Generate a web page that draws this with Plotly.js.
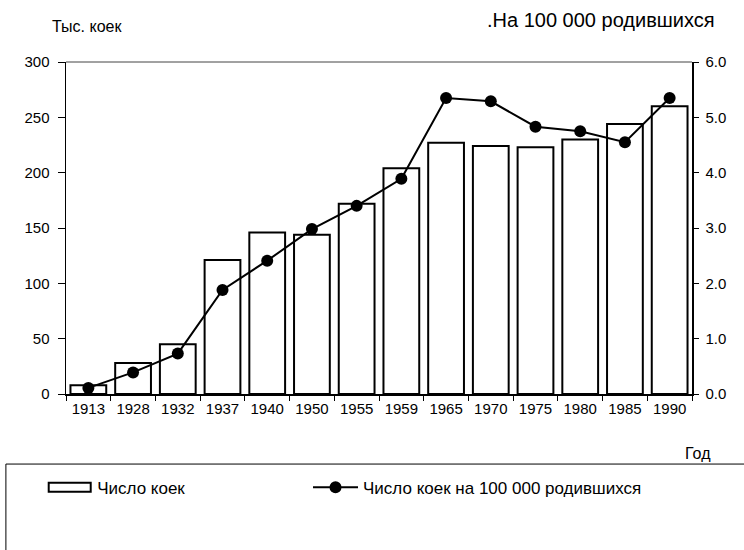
<!DOCTYPE html>
<html><head><meta charset="utf-8">
<script src="https://cdn.plot.ly/plotly-3.0.1.min.js"></script>
<style>body{margin:0;background:#fff}#chart{width:744px;height:550px}</style>
</head><body><div id="chart"></div>
<script>
const years = ["1913","1928","1932","1937","1940","1950","1955","1959","1965","1970","1975","1980","1985","1990"];
const beds = [8, 28, 45, 121, 146, 144, 172, 204, 227, 224, 223, 230, 244, 260];
const bedsPer100k = [0.11, 0.39, 0.73, 1.88, 2.41, 2.98, 3.40, 3.89, 5.35, 5.29, 4.83, 4.75, 4.55, 5.35];
const leftTicks = [0, 50, 100, 150, 200, 250, 300];
const rightTicks = [0, 1, 2, 3, 4, 5, 6];

const FAM = "Liberation Sans, Arial, sans-serif";
const tickFont = {family: FAM, size: 15, color: "#000"};
const legFont = {family: FAM, size: 17, color: "#000"};

const traces = [
  {type: "bar", x: years, y: beds, name: "Число коек", width: 0.8, legend: "legend",
   marker: {color: "#fff", line: {color: "#000", width: 2}}, yaxis: "y"},
  {type: "scatter", mode: "lines+markers", x: years, y: bedsPer100k, yaxis: "y2", legend: "legend2",
   name: "Число коек на 100 000 родившихся",
   line: {color: "#000", width: 2}, marker: {color: "#000", size: 12}}
];

const layout = {
  width: 744, height: 550,
  margin: {l: 66, r: 52, t: 62, b: 156},
  paper_bgcolor: "#fff", plot_bgcolor: "#fff",
  font: {family: FAM, size: 15, color: "#000"},
  showlegend: true,
  legend: {orientation: "h", x: -0.038, xanchor: "left", y: -0.282, yanchor: "middle",
           itemwidth: 45, bgcolor: "rgba(0,0,0,0)", font: legFont},
  legend2: {orientation: "h", x: 0.3866, xanchor: "left", y: -0.282, yanchor: "middle",
            itemwidth: 45, bgcolor: "rgba(0,0,0,0)", font: legFont},
  bargap: 0.2,
  xaxis: {type: "category", range: [-0.5, years.length - 0.5], showline: true, linecolor: "#000",
          linewidth: 2, tickangle: 0,
          ticks: "outside", tickson: "boundaries", ticklen: 5, tickcolor: "#000",
          showgrid: false, zeroline: false, tickfont: tickFont, fixedrange: true},
  yaxis: {range: [0, 300], tickvals: leftTicks, ticks: "outside", ticklen: 7, tickcolor: "#000",
          showline: true, linecolor: "#000", linewidth: 1.5, showgrid: false, zeroline: false,
          tickfont: tickFont, ticklabelstandoff: 5},
  yaxis2: {range: [0, 6], tickvals: rightTicks, tickformat: ".1f", overlaying: "y", side: "right",
           ticks: "outside", ticklen: 5, tickcolor: "#000", showline: true, linecolor: "#000",
           linewidth: 1.5, showgrid: false, zeroline: false, tickfont: tickFont, ticklabelstandoff: 4},
  shapes: [
    {type: "line", xref: "paper", yref: "paper", x0: 0, x1: 1, y0: 1, y1: 1,
     line: {color: "#444", width: 1}},
    {type: "rect", xref: "paper", yref: "paper", x0: -0.096, x1: 1.2, y0: -0.211, y1: -0.6,
     line: {color: "#000", width: 1}, fillcolor: "rgba(0,0,0,0)"}
  ],
  annotations: [
    {text: "Тыс. коек", xref: "paper", yref: "paper", x: 0.034, y: 1.108, xanchor: "center",
     yanchor: "middle", showarrow: false, font: {family: FAM, size: 16, color: "#000"}},
    {text: ".На 100 000 родившихся", xref: "paper", yref: "paper", x: 1.04, y: 1.1265,
     xanchor: "right", yanchor: "middle", showarrow: false,
     font: {family: FAM, size: 20, color: "#000"}},
    {text: "Год", xref: "paper", yref: "paper", x: 1.0335, y: -0.178, xanchor: "right",
     yanchor: "middle", showarrow: false, font: {family: FAM, size: 16, color: "#000"}}
  ]
};

const gd = document.getElementById("chart");
function widenBarLegend() {
  const p = gd.querySelector(".legend .traces .legendpoints path");
  if (p) { p.setAttribute("d", "M21,4.5H-21V-4.5H21Z"); p.style.strokeWidth = "2px"; }
}
Plotly.newPlot(gd, traces, layout, {displayModeBar: false, staticPlot: true}).then(widenBarLegend);
</script></body></html>
